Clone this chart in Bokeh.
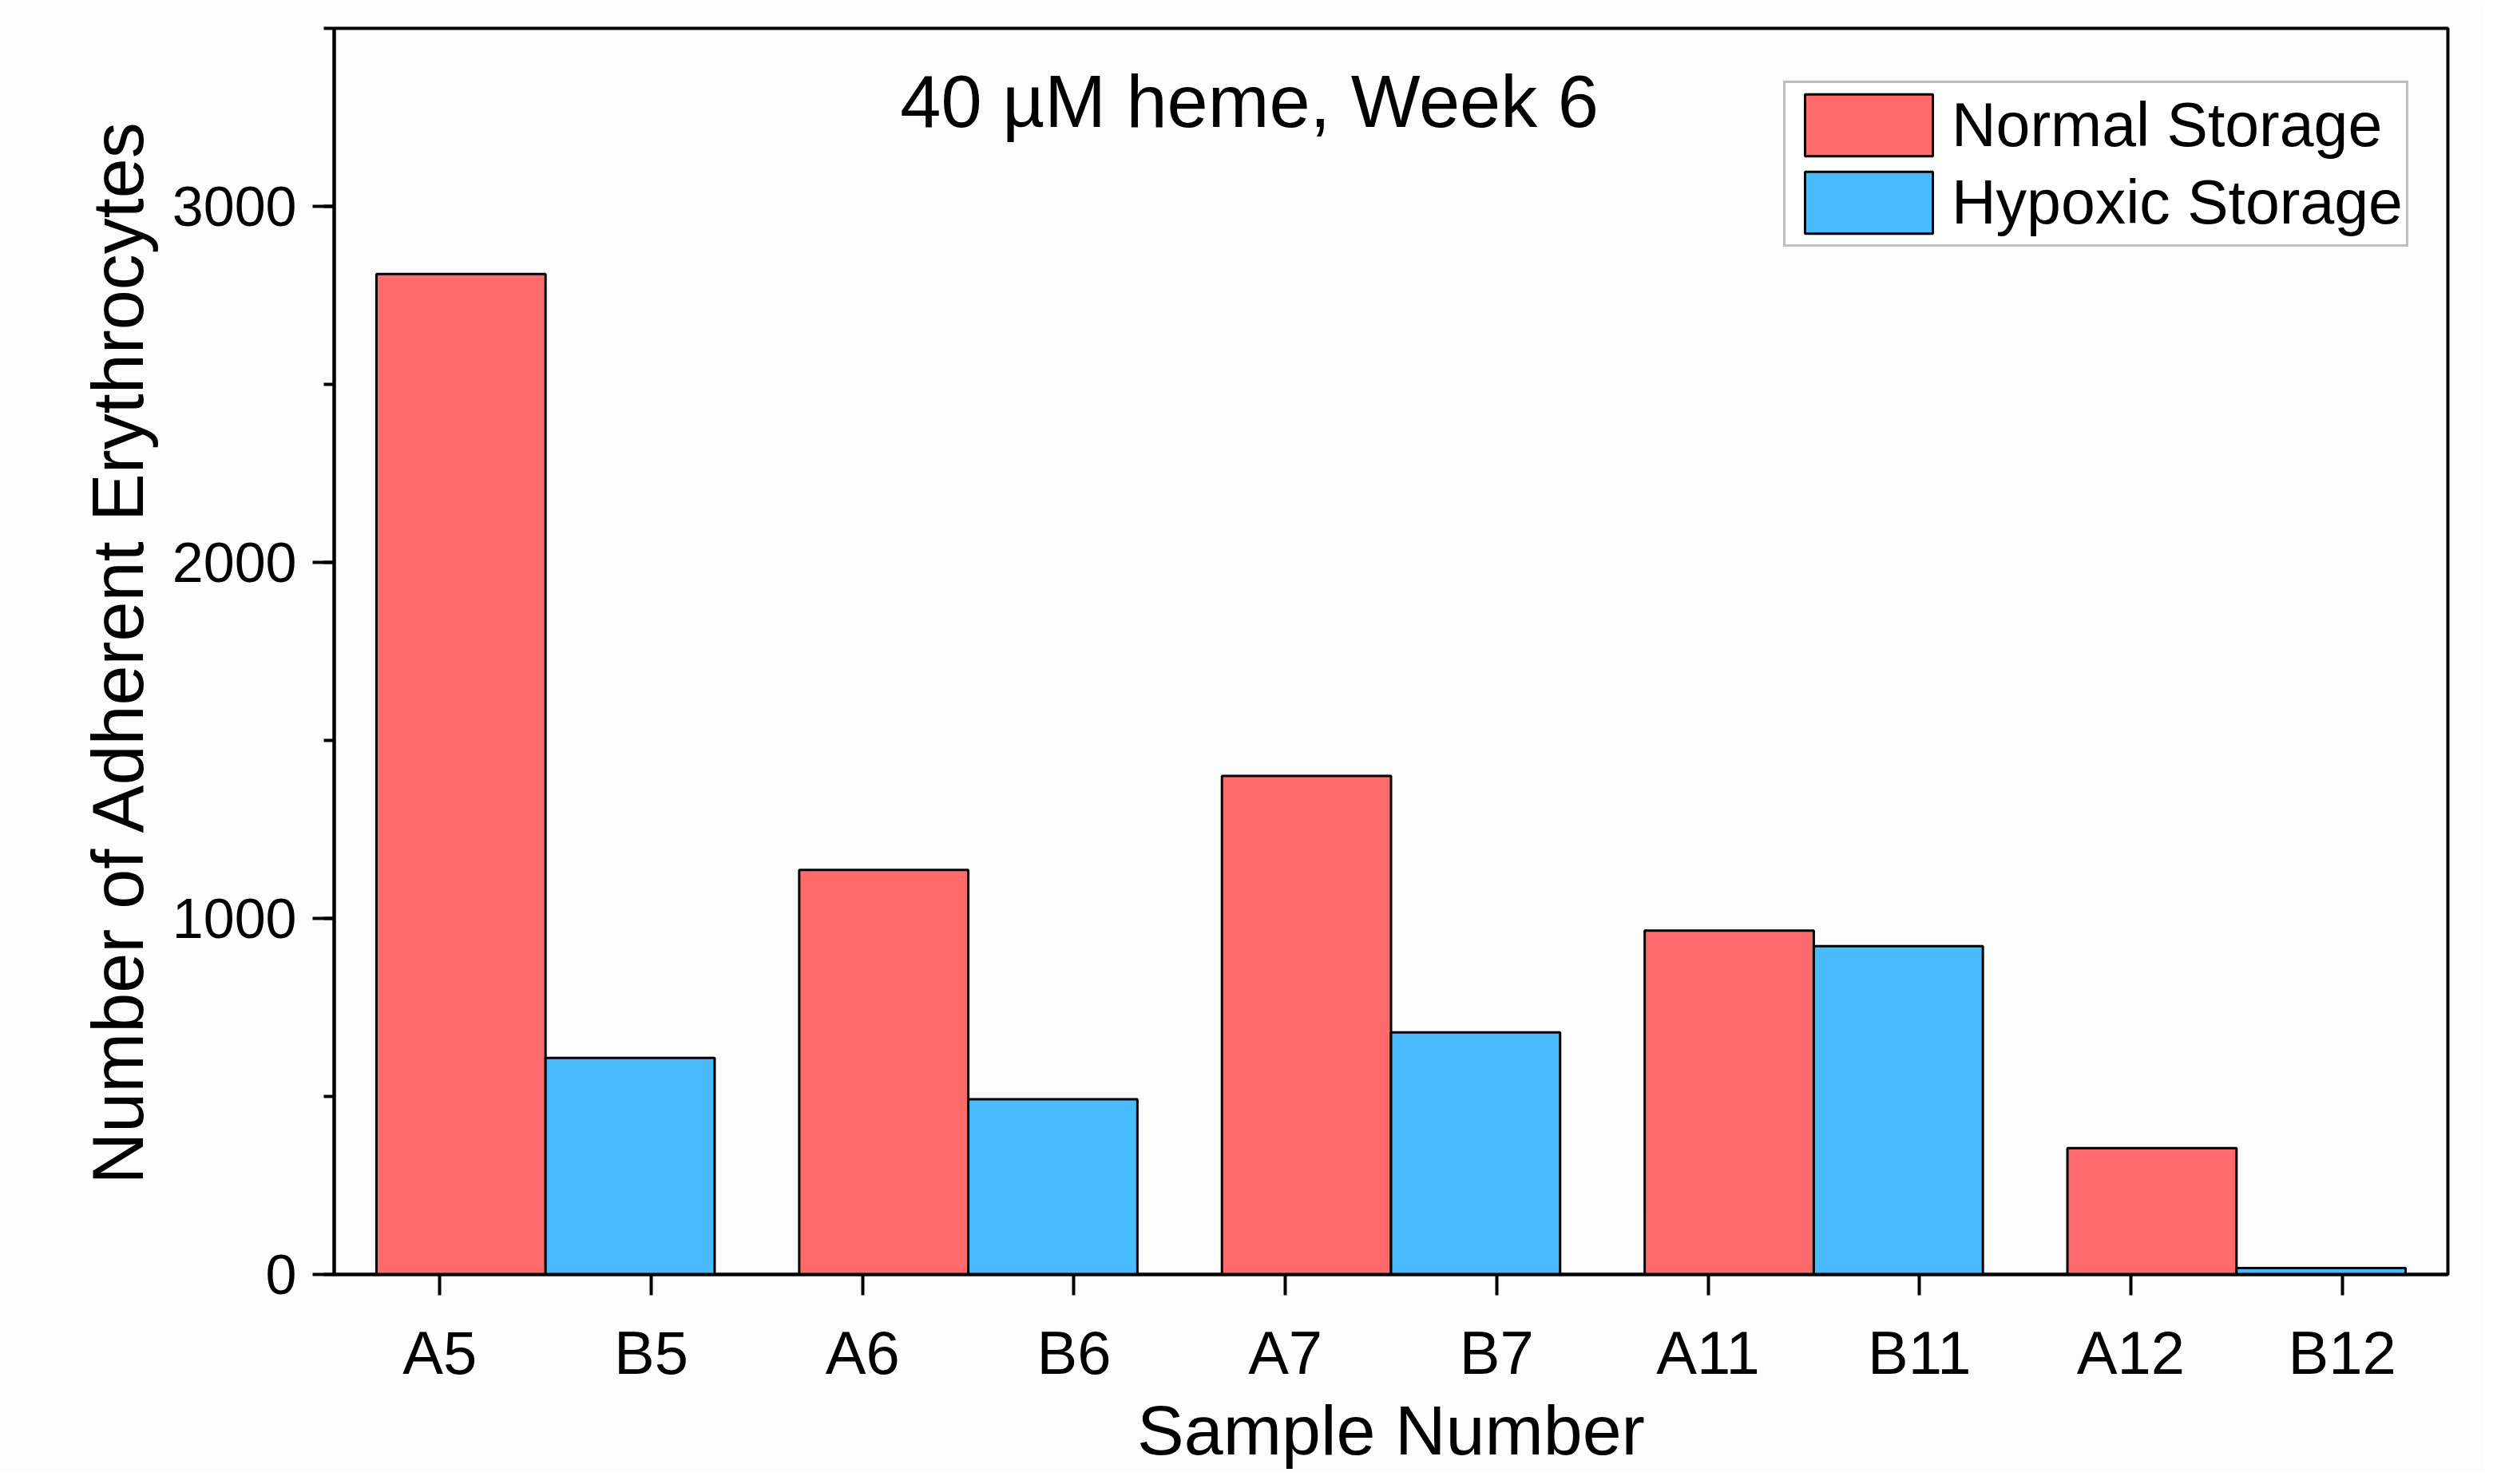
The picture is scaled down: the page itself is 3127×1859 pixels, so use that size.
from bokeh.plotting import figure
from bokeh.models import FactorRange, Range1d, SingleIntervalTicker, Legend, LegendItem, Label, ColumnDataSource
from bokeh.transform import dodge
from bokeh.embed import file_html
from bokeh.resources import INLINE

# ---- data ----
sample_labels = ["A5", "B5", "A6", "B6", "A7", "B7", "A11", "B11", "A12", "B12"]
normal_samples = ["A5", "A6", "A7", "A11", "A12"]
hypoxic_samples = ["B5", "B6", "B7", "B11", "B12"]
normal_counts = [2810, 1136, 1400, 966, 355]
hypoxic_counts = [608, 492, 680, 922, 18]
series_names = ["Normal Storage", "Hypoxic Storage"]
title_text = "40 \u00b5M heme, Week 6"
x_title = "Sample Number"
y_title = "Number of Adherent Erythrocytes"

FONT = "Liberation Sans"
RED = "#FF6A6A"
BLUE = "#49BBFC"
BG = "#FCFCFC"

p = figure(
    x_range=FactorRange(factors=sample_labels, range_padding=0, factor_padding=0),
    y_range=Range1d(0, 3500),
    width=3111, height=1843,
    output_backend="svg", toolbar_location=None,
    min_border_left=418, min_border_right=46, min_border_top=35, min_border_bottom=245,
    background_fill_color=BG, border_fill_color=BG,
)

src_n = ColumnDataSource(dict(x=normal_samples, y=normal_counts))
src_h = ColumnDataSource(dict(x=hypoxic_samples, y=hypoxic_counts))

r1 = p.vbar(x=dodge("x", 0.1, range=p.x_range), top="y", bottom=0, width=0.8, source=src_n,
            fill_color=RED, line_color="black", line_width=3)
r2 = p.vbar(x=dodge("x", -0.1, range=p.x_range), top="y", bottom=0, width=0.8, source=src_h,
            fill_color=BLUE, line_color="black", line_width=3)

p.xgrid.visible = False
p.ygrid.visible = False
p.outline_line_color = "black"
p.outline_line_width = 4
p.outline_line_alpha = 1

# x axis
xa = p.xaxis[0]
xa.axis_label = x_title
xa.axis_label_text_font = FONT
xa.axis_label_text_font_style = "normal"
xa.axis_label_text_font_size = "88px"
xa.axis_label_text_color = "black"
xa.axis_label_standoff = 2
xa.major_label_text_font = FONT
xa.major_label_text_font_size = "76px"
xa.major_label_text_color = "black"
xa.major_label_standoff = 29
xa.axis_line_width = 4
xa.axis_line_color = "black"
xa.major_tick_line_width = 4
xa.major_tick_line_color = "black"
xa.major_tick_in = 0
xa.major_tick_out = 26
xa.minor_tick_line_color = None

# y axis
ya = p.yaxis[0]
ya.ticker = SingleIntervalTicker(interval=1000, num_minor_ticks=2)
ya.axis_label = y_title
ya.axis_label_text_font = FONT
ya.axis_label_text_font_style = "normal"
ya.axis_label_text_font_size = "90px"
ya.axis_label_text_color = "black"
ya.axis_label_standoff = 15
ya.major_label_text_font = FONT
ya.major_label_text_font_size = "70px"
ya.major_label_text_color = "black"
ya.major_label_standoff = 20
ya.axis_line_width = 4
ya.axis_line_color = "black"
ya.major_tick_line_width = 4
ya.major_tick_line_color = "black"
ya.major_tick_in = 0
ya.major_tick_out = 27
ya.minor_tick_line_width = 4
ya.minor_tick_line_color = "black"
ya.minor_tick_in = 0
ya.minor_tick_out = 13

# title inside the plot area
p.add_layout(Label(x=4.33, y=3294, text=title_text, text_font=FONT, text_font_size="92px",
                   text_align="center", text_baseline="middle", text_color="black"))

legend = Legend(
    items=[LegendItem(label=series_names[0], renderers=[r1]),
           LegendItem(label=series_names[1], renderers=[r2])],
    location=(1815, 1287),
    glyph_width=200, glyph_height=97,
    label_text_font=FONT, label_text_font_size="77px", label_text_color="black",
    label_standoff=4, spacing=0, padding=4, margin=0,
    border_line_color="#808080", border_line_width=3,
    background_fill_color="white", background_fill_alpha=1,
)
p.add_layout(legend)

with open("out.html", "w", encoding="utf-8") as f:
    f.write(file_html(p, INLINE))
